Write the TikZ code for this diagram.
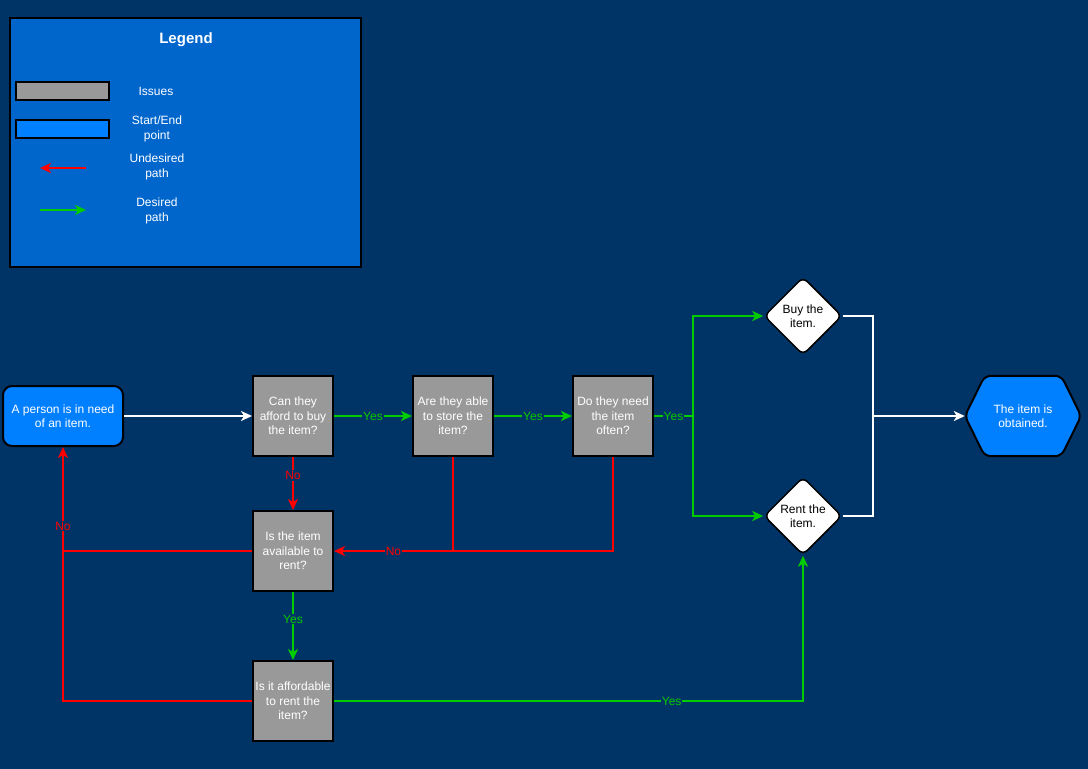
\documentclass[tikz,border=0pt]{standalone}
\usepackage{fontspec}
\setmainfont{Liberation Sans}
\usepackage{xcolor}
\usetikzlibrary{shapes.geometric, arrows.meta, positioning, calc}
\definecolor{bgblue}{RGB}{0,51,102}
\definecolor{legblue}{RGB}{0,102,204}
\definecolor{startblue}{RGB}{0,127,255}
\definecolor{issuegray}{RGB}{153,153,153}
\definecolor{yesgreen}{RGB}{0,204,0}
\definecolor{nored}{RGB}{255,0,0}
\tikzset{
    txt/.style={font=\fontsize{12}{14.5}\selectfont, align=center},
    issue/.style={txt, rectangle, draw=black, line width=2pt, fill=issuegray, minimum width=80pt, minimum height=80pt, inner sep=1pt, text=white},
    startbox/.style={txt, rectangle, draw=black, line width=2pt, fill=startblue, rounded corners=9pt, minimum width=120pt, minimum height=60pt, text=white},
    choice/.style={txt, diamond, draw=black, line width=1.5pt, fill=white, rounded corners=6pt, minimum width=78pt, minimum height=78pt, aspect=1, inner sep=-2pt},
    hexhold/.style={rectangle, minimum width=116pt, minimum height=80pt, inner sep=0pt},
    flow/.style={line width=2pt},
    tip/.style={-{Stealth[length=11pt,width=10pt,inset=3pt]}},
    whiteline/.style={flow, draw=white},
    yesline/.style={flow, draw=yesgreen},
    noline/.style={flow, draw=nored},
    yeslbl/.style={fill=bgblue, text=yesgreen, inner sep=1pt, font=\fontsize{12}{13}\selectfont},
    nolbl/.style={fill=bgblue, text=nored, inner sep=1pt, font=\fontsize{12}{13}\selectfont},
    legtxt/.style={txt, text=white}
}

\begin{document}
\begin{tikzpicture}[x=1pt, y=-1pt]
    \fill[bgblue] (0,0) rectangle (1088,769);
    \useasboundingbox (0,0) rectangle (1088,769);

    % legend
    \node (legend) [rectangle, draw=black, line width=2pt, fill=legblue, minimum width=351pt, minimum height=249pt] at (185.5,142.5) {};
    \node (legtitle) [font=\fontsize{15}{18}\selectfont\bfseries, text=white] at (186,40) {Legend};
    \node (legissue) [rectangle, draw=black, line width=2pt, fill=issuegray, minimum width=93pt, minimum height=18pt] at (62.5,91) {};
    \node (legstart) [rectangle, draw=black, line width=2pt, fill=startblue, minimum width=93pt, minimum height=18pt] at (62.5,129) {};
    \coordinate (undfrom) at (86,168);
    \coordinate (undto) at (40,168);
    \coordinate (desfrom) at (40,210);
    \coordinate (desto) at (86,210);
    \draw[noline, tip] (undfrom) -- (undto);
    \draw[yesline, tip] (desfrom) -- (desto);
    \node (lissue) [legtxt] at (156,91) {Issues};
    \node (lstart) [legtxt] at (157,129) {Start/End\\point};
    \node (lund) [legtxt] at (157,167) {Undesired\\path};
    \node (ldes) [legtxt] at (157,211) {Desired\\path};

    % flow
    \node (start) [startbox] at (63,416) {A person is in need\\of an item.};
    \node (afford) [issue, right=128pt of start] {Can they\\afford to buy\\the item?};
    \node (store) [issue, right=78pt of afford] {Are they able\\to store the\\item?};
    \node (often) [issue, right=78pt of store] {Do they need\\the item\\often?};
    \node (avail) [issue, below=53pt of afford] {Is the item\\available to\\rent?};
    \node (rentok) [issue, below=68pt of avail] {Is it affordable\\to rent the\\item?};
    \node (buy) [choice] at (803,316) {Buy the\\item.};
    \node (rent) [choice] at (803,516) {Rent the\\item.};
    \node (endbox) [hexhold] at (1023,416) {};
    \draw[black, line width=2pt, fill=startblue, rounded corners=6pt]
        (endbox.west) -- ([xshift=20pt]endbox.north west) -- ([xshift=-20pt]endbox.north east)
        -- (endbox.east) -- ([xshift=-20pt]endbox.south east) -- ([xshift=20pt]endbox.south west) -- cycle;
    \node (endtxt) [legtxt] at (endbox) {The item is\\obtained.};

    \coordinate (split) at (693,416);
    \coordinate (merge) at (873,416);
    \coordinate (nojoin) at (store |- avail);
    \coordinate (nocorner) at (start |- avail);

    \draw[whiteline, tip] (start) -- (afford);
    \draw[yesline, tip] (afford) -- node[yeslbl] {Yes} (store);
    \draw[yesline, tip] (store) -- node[yeslbl] {Yes} (often);
    \draw[yesline] (often) -- node[yeslbl] {Yes} (split);
    \draw[yesline, tip] (split) |- (buy);
    \draw[yesline, tip] (split) |- (rent);
    \draw[whiteline] (buy) -| (merge);
    \draw[whiteline] (rent) -| (merge);
    \draw[whiteline, tip] (merge) -- (endbox.west);

    \draw[noline, tip] (afford) -- node[nolbl, pos=0.35] {No} (avail);
    \draw[noline, tip] (store) |- node[nolbl, pos=0.75] {No} (avail);
    \draw[noline] (often) |- (nojoin);
    \draw[noline, tip] (avail) -| node[nolbl, pos=0.62] {No} (start);
    \draw[noline] (rentok) -| (nocorner);
    \draw[yesline, tip] (avail) -- node[yeslbl, pos=0.4] {Yes} (rentok);
    \draw[yesline, tip] (rentok) -| node[yeslbl, pos=0.36] {Yes} (rent);
\end{tikzpicture}
\end{document}
